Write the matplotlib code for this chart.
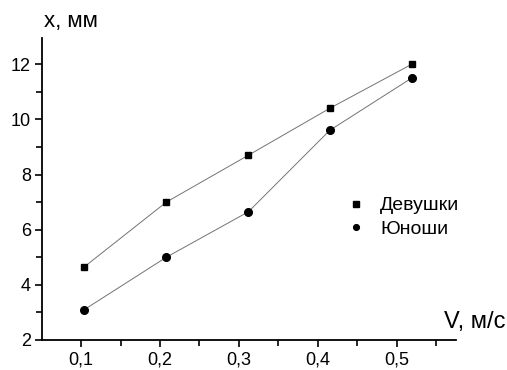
import matplotlib.pyplot as plt
from matplotlib.ticker import MultipleLocator, FuncFormatter

plt.rcParams['font.family'] = ['Liberation Sans', 'DejaVu Sans']

speed_girls = [0.104, 0.208, 0.312, 0.415, 0.519]
x_girls = [4.65, 7.0, 8.7, 10.4, 12.0]
speed_boys = [0.104, 0.208, 0.312, 0.415, 0.519]
x_boys = [3.1, 5.0, 6.65, 9.6, 11.5]

fig = plt.figure(figsize=(5.07, 3.70), dpi=100)
ax = fig.add_axes([42 / 507, 30 / 370, 414 / 507, 302 / 370])

ax.plot(speed_girls, x_girls, color='0.45', lw=0.7, marker='s', ms=5,
        mfc='black', mec='black', label='Девушки')
ax.plot(speed_boys, x_boys, color='0.45', lw=0.7, marker='o', ms=5.5,
        mfc='black', mec='black', label='Юноши')

ax.set_xlim(0.0505, 0.575)
ax.set_ylim(2, 12.95)
ax.xaxis.set_major_locator(MultipleLocator(0.1))
ax.xaxis.set_minor_locator(MultipleLocator(0.05))
ax.yaxis.set_major_locator(MultipleLocator(2))
ax.yaxis.set_minor_locator(MultipleLocator(1))
ax.xaxis.set_major_formatter(
    FuncFormatter(lambda v, p: f'{v:.1f}'.replace('.', ',')))
ax.tick_params(which='both', direction='out', width=1.2, labelsize=13,
               color='black')
ax.tick_params(which='major', length=5)
ax.tick_params(which='minor', length=4)
ax.tick_params(axis='x', pad=3)
ax.tick_params(axis='y', pad=3)
for side in ('top', 'right'):
    ax.spines[side].set_visible(False)
for side in ('left', 'bottom'):
    ax.spines[side].set_linewidth(1.3)

fig.text(44 / 507, 1 - 21 / 370, 'x, мм', fontsize=16, va='center',
         ha='left')
fig.text(505 / 507, 1 - 322 / 370, 'V, м/с', fontsize=17, va='center',
         ha='right')

ax.legend(loc='upper left', bbox_to_anchor=(0.72, 0.50), frameon=False,
          fontsize=14, handlelength=0.8, handletextpad=0.85,
          labelspacing=0.3, borderaxespad=0, markerscale=0.75)
# legend markers only, no line
for h in ax.get_legend().legend_handles:
    h.set_linestyle('None')

fig.savefig('out.png', dpi=100)
